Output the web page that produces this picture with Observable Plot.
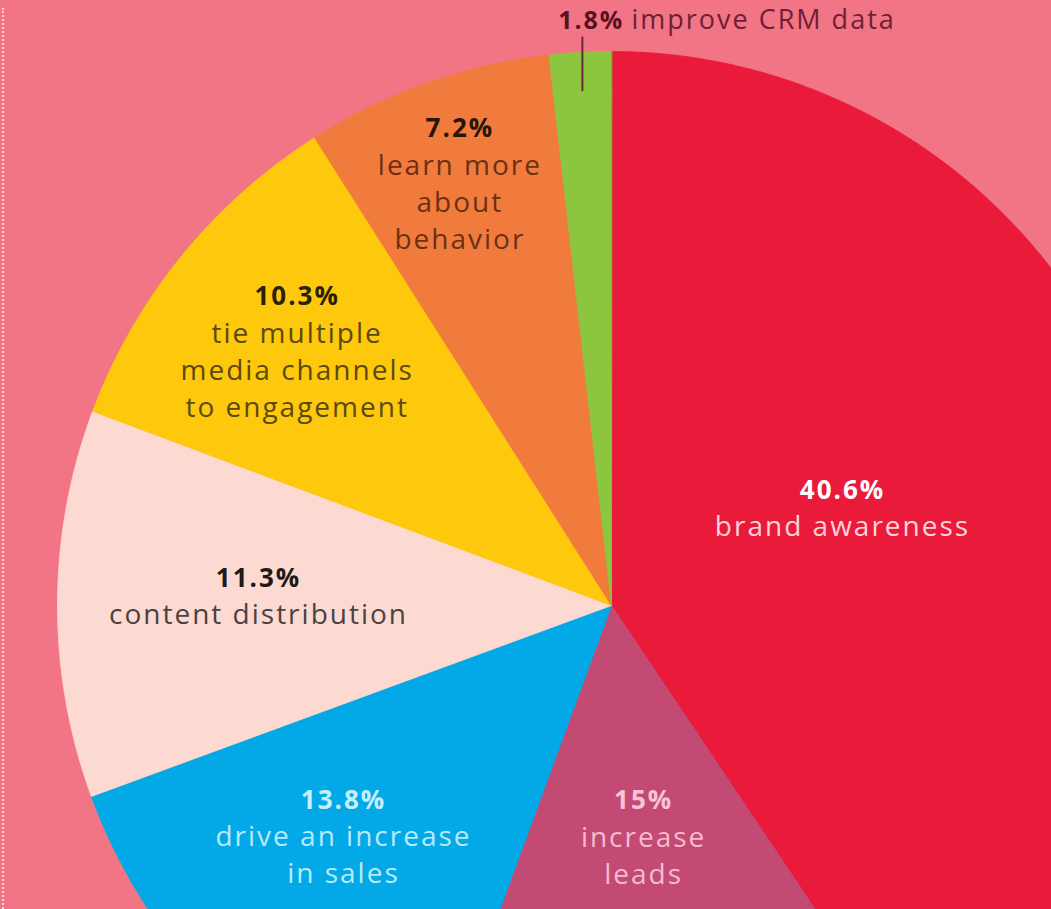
<!DOCTYPE html>
<html><head><meta charset="utf-8">
<script src="https://cdn.jsdelivr.net/npm/d3@7"></script>
<script src="https://cdn.jsdelivr.net/npm/@observablehq/plot@0.6"></script>
<style>
html,body{margin:0;padding:0;background:#f27586;overflow:hidden;}
#chart{position:relative;width:1051px;height:909px;}
#dots{position:absolute;left:2px;top:8px;bottom:0;border-left:2px dotted rgba(255,228,234,0.85);}
#chart svg text{letter-spacing:2px;}
</style></head><body>
<div id="chart"><div id="dots"></div></div>
<script>
// ---- data ----
const categories = ["brand awareness","increase leads","drive an increase in sales","content distribution","tie multiple media channels to engagement","learn more about behavior","improve CRM data"];
const values = [40.6, 15, 13.8, 11.3, 10.3, 7.2, 1.8];
const valueLabels = ["40.6%","15%","13.8%","11.3%","10.3%","7.2%","1.8%"];
const labelLines = [["brand awareness"],["increase","leads"],["drive an increase","in sales"],["content distribution"],["tie multiple","media channels","to engagement"],["learn more","about","behavior"],["improve CRM data"]];

// ---- layout / style ----
const W = 1051, H = 909, CX = 611, CY = 605, R = 554;
const sliceColors = ["#ea1a3b","#c34a73","#03a9e7","#fddad1","#fec80c","#f17b3d","#8cc63f"];
const pctColors  = ["#ffffff","#f7c4d6","#c4f0fd","#1e1a1a","#2b2108","#2a1408","#5a1020"];
const nameColors = ["#fdd3da","#f5bcd0","#b5ebfb","#4a4242","#5b4a0e","#6b3012","#6e2034"];
const labelAngleOffset = [-9.6, -2.5, 9, 4.2, 5.4, 1.8, 0];
const labelRadius = [0.466, 0.357, 0.598, 0.639, 0.795, 0.903, 0.93];
const lineGap = 37 / R;

const arcs = d3.pie().sort(null).value(d => d)(values);

const polys = [];
arcs.forEach((a, i) => {
  polys.push({i, x: 0, y: 0, fill: sliceColors[i]});
  const n = Math.max(2, Math.ceil((a.endAngle - a.startAngle) / (Math.PI / 360)));
  for (let k = 0; k <= n; k++) {
    const t = a.startAngle + (a.endAngle - a.startAngle) * k / n;
    polys.push({i, x: Math.sin(t), y: Math.cos(t), fill: sliceColors[i]});
  }
});

const pctData = [], nameData = [], leader = [], outside = [];
arcs.forEach((a, i) => {
  const mid = (a.startAngle + a.endAngle) / 2 + labelAngleOffset[i] * Math.PI / 180;
  const r = labelRadius[i];
  const x = Math.sin(mid) * r, y = Math.cos(mid) * r;
  if (i === 6) {
    const yTop = (CY - 36) / R, yText = (CY - 20) / R;
    leader.push({x1: x, y1: y, x2: x, y2: yTop});
    outside.push({x: x + 42 / R, y: yText, text: valueLabels[i], fill: pctColors[i], anchor: "end"});
    outside.push({x: x + 49 / R, y: yText, text: labelLines[i][0], fill: nameColors[i], anchor: "start"});
    return;
  }
  pctData.push({x, y, text: valueLabels[i], fill: pctColors[i]});
  labelLines[i].forEach((t, k) => nameData.push({x, y: y - lineGap * (k + 1), text: t, fill: nameColors[i]}));
});

const chart = Plot.plot({
  width: W, height: H, margin: 0,
  x: {domain: [-CX / R, (W - CX) / R], range: [0, W], axis: null},
  y: {domain: [-(H - CY) / R, CY / R], range: [H, 0], axis: null},
  color: {type: "identity"},
  style: {background: "transparent", overflow: "hidden"},
  marks: [
    Plot.line(polys, {x: "x", y: "y", z: "i", fill: "fill", stroke: "fill", strokeWidth: 0.8, curve: "linear-closed"}),
    Plot.text(pctData, {x: "x", y: "y", text: "text", fill: "fill", fontSize: 26, fontWeight: "bold", fontFamily: "Open Sans", lineAnchor: "middle"}),
    Plot.text(nameData, {x: "x", y: "y", text: "text", fill: "fill", fontSize: 28, fontFamily: "Open Sans", lineAnchor: "middle"}),
    Plot.link(leader, {x1: "x1", y1: "y1", x2: "x2", y2: "y2", stroke: "#6a2a36", strokeWidth: 2}),
    Plot.text(outside.filter(d => d.anchor === "end"), {x: "x", y: "y", text: "text", fill: "fill", fontSize: 25, fontWeight: "bold", fontFamily: "Open Sans", textAnchor: "end", lineAnchor: "middle"}),
    Plot.text(outside.filter(d => d.anchor === "start"), {x: "x", y: "y", text: "text", fill: "fill", fontSize: 27, fontFamily: "Open Sans", textAnchor: "start", lineAnchor: "middle"})
  ]
});
document.getElementById("chart").appendChild(chart);
</script>
</body></html>
